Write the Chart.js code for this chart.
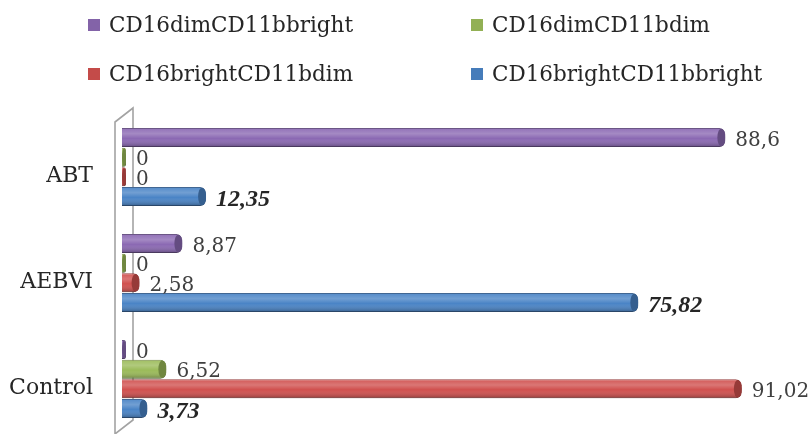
<!DOCTYPE html>
<html>
<head>
<meta charset="utf-8">
<script src="https://cdn.jsdelivr.net/npm/chart.js@4/dist/chart.umd.min.js"></script>
<style>
  html, body { margin: 0; padding: 0; background: #ffffff; }
  #wrap { width: 809px; height: 434px; }
</style>
</head>
<body>
<div id="wrap"><canvas id="chart" width="809" height="434"></canvas></div>
<script>
// Groups (top to bottom) and series values, in percent
const groups = ['ABT', 'AEBVI', 'Control'];
const seriesNames = ['CD16dimCD11bbright', 'CD16dimCD11bdim', 'CD16brightCD11bdim', 'CD16brightCD11bbright'];
const dimBright = [88.6, 8.87, 0];
const dimDim = [0, 0, 6.52];
const brightDim = [0, 2.58, 91.02];
const brightBright = [12.35, 75.82, 3.73];
const seriesColors = ['#8b69b3', '#9bbb59', '#d0504e', '#4a84c6'];
const axisMax = 100;

function shade(hex, f) {
  const n = parseInt(hex.slice(1), 16);
  const t = f < 0 ? 0 : 255, p = Math.abs(f);
  const mix = c => Math.round((t - c) * p + c);
  return `rgb(${mix(n >> 16)},${mix((n >> 8) & 255)},${mix(n & 255)})`;
}

const fmt = v => String(v).replace('.', ',');

// Back wall of the category axis, drawn behind the bars
const wallPlugin = {
  id: 'wall',
  beforeDatasetsDraw(chart) {
    const { ctx, chartArea: { top, bottom }, scales: { x } } = chart;
    const x0 = x.getPixelForValue(0);
    const front = x0 - 7, back = x0 + 11;
    ctx.save();
    ctx.strokeStyle = '#a3a3a3';
    ctx.lineWidth = 1.6;
    ctx.beginPath();
    ctx.moveTo(front, bottom + 4);
    ctx.lineTo(front, top + 8);
    ctx.lineTo(back, top - 6);
    ctx.lineTo(back, bottom - 12);
    ctx.lineTo(back - 18, bottom + 2);
    ctx.stroke();
    ctx.restore();
  }
};

// Cylinder shading, end caps and value labels
const barDecor = {
  id: 'barDecor',
  afterDatasetsDraw(chart) {
    const { ctx } = chart;
    chart.data.datasets.forEach((ds, di) => {
      const meta = chart.getDatasetMeta(di);
      meta.data.forEach((el, i) => {
        const { x, y, base, height } = el.getProps(['x', 'y', 'base', 'height'], true);
        const left = Math.min(base, x), right = Math.max(base, x);
        const w = right - left, h = height;
        const topY = y - h / 2;
        const r = Math.min(6, w / 2);
        ctx.save();
        ctx.beginPath();
        ctx.roundRect(left, topY, w, h, [0, r, r, 0]);
        ctx.clip();
        const g = ctx.createLinearGradient(0, topY, 0, topY + h);
        g.addColorStop(0, 'rgba(255,255,255,0.05)');
        g.addColorStop(0.3, 'rgba(255,255,255,0.22)');
        g.addColorStop(0.55, 'rgba(255,255,255,0.0)');
        g.addColorStop(1, 'rgba(0,0,0,0.30)');
        ctx.fillStyle = g;
        ctx.fillRect(left, topY, w, h);
        // end cap
        const rx = Math.min(4, w / 2);
        ctx.beginPath();
        ctx.ellipse(right - rx, y, rx, h / 2 - 0.5, 0, 0, Math.PI * 2);
        ctx.fillStyle = shade(ds.baseColor, -0.28);
        ctx.fill();
        ctx.restore();

        // value label
        const v = ds.data[i];
        ctx.save();
        ctx.textBaseline = 'middle';
        ctx.textAlign = 'left';
        if (ds.emphasis) {
          ctx.font = 'italic bold 24px "Liberation Serif"';
          ctx.fillStyle = '#262626';
        } else {
          ctx.font = '20px "DejaVu Serif"';
          ctx.fillStyle = '#404040';
        }
        ctx.fillText(fmt(v), right + 10, y + 3);
        ctx.restore();
      });
    });
  }
};

// Two-column legend above the plot
const gridLegend = {
  id: 'gridLegend',
  afterDraw(chart, args, opts) {
    const { ctx } = chart;
    ctx.save();
    ctx.font = '21.5px "DejaVu Serif"';
    ctx.textBaseline = 'middle';
    ctx.textAlign = 'left';
    chart.data.datasets.forEach((ds, i) => {
      const cx = opts.columns[i % 2];
      const cy = opts.rows[Math.floor(i / 2)];
      ctx.fillStyle = shade(ds.baseColor, -0.06);
      ctx.fillRect(cx, cy - 6, 12, 12);
      ctx.fillStyle = '#262626';
      ctx.fillText(ds.label, cx + 21, cy + 1);
    });
    ctx.restore();
  }
};

const seriesValues = [dimBright, dimDim, brightDim, brightBright];

const datasets = seriesNames.map((name, i) => ({
  label: name,
  data: seriesValues[i],
  baseColor: seriesColors[i],
  backgroundColor: seriesColors[i],
  borderColor: shade(seriesColors[i], -0.3),
  borderWidth: 1,
  borderRadius: 6,
  borderSkipped: 'start',
  minBarLength: 4,
  emphasis: i === 3,
  categoryPercentage: 0.742,
  barPercentage: 0.97
}));

new Chart(document.getElementById('chart'), {
  type: 'bar',
  data: { labels: groups, datasets },
  options: {
    indexAxis: 'y',
    responsive: false,
    animation: false,
    events: [],
    layout: { autoPadding: false, padding: { top: 114, right: 6, bottom: 2, left: 0 } },
    scales: {
      x: {
        display: false,
        min: 0,
        max: axisMax
      },
      y: {
        grid: { display: false, drawTicks: false },
        border: { display: false },
        ticks: {
          color: '#262626',
          font: { family: 'DejaVu Serif', size: 22 },
          padding: 29,
          labelOffset: 9
        },
        afterFit(scale) {
          scale.width = 122;
          scale.paddingTop = 0;
          scale.paddingBottom = 0;
        }
      }
    },
    plugins: {
      legend: { display: false },
      tooltip: { enabled: false },
      gridLegend: { columns: [88, 471], rows: [25, 74] }
    }
  },
  plugins: [wallPlugin, barDecor, gridLegend]
});
</script>
</body>
</html>
